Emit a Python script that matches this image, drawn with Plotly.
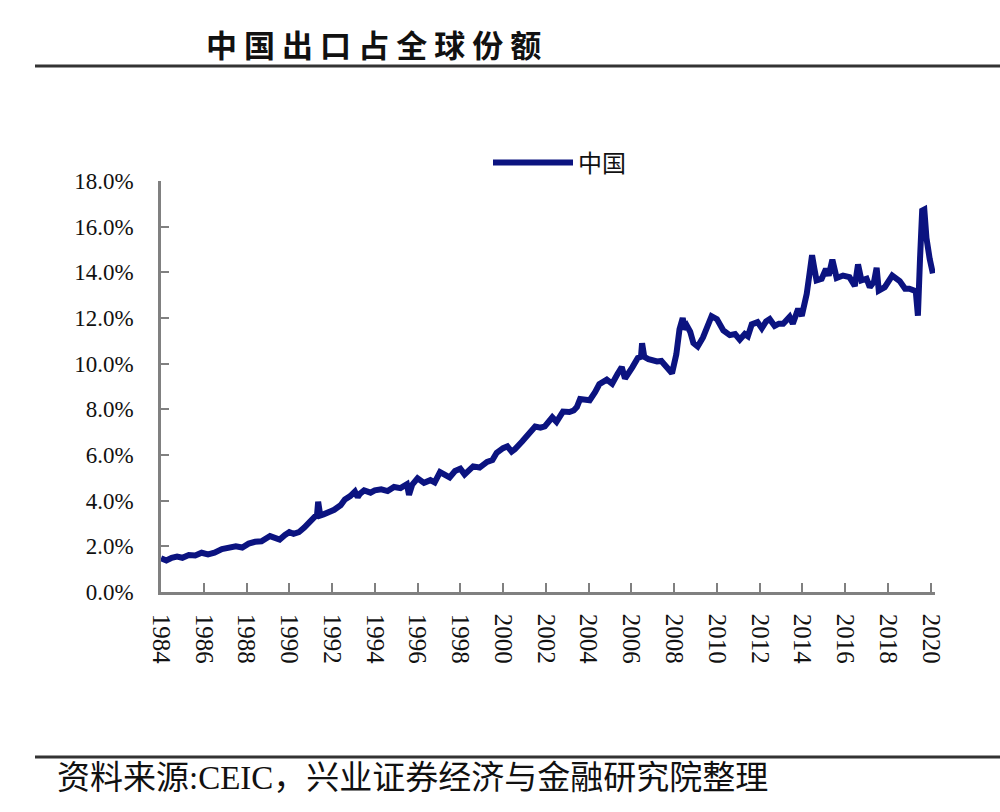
import plotly.graph_objects as go

# ---- data ----
years = [
    1984.0, 1984.25, 1984.5, 1984.75, 1985.0, 1985.3, 1985.6, 1985.9, 1986.2, 1986.5,
    1986.85, 1987.2, 1987.5, 1987.8, 1988.1, 1988.4, 1988.7, 1989.1, 1989.3, 1989.55,
    1989.8, 1990.0, 1990.2, 1990.45, 1990.7, 1991.0, 1991.2, 1991.3, 1991.35, 1991.45,
    1991.6, 1991.85, 1992.1, 1992.4, 1992.6, 1992.85, 1993.07, 1993.2, 1993.3, 1993.5,
    1993.8, 1994.0, 1994.3, 1994.6, 1994.9, 1995.2, 1995.5, 1995.6, 1995.75, 1996.0,
    1996.3, 1996.6, 1996.8, 1997.05, 1997.3, 1997.5, 1997.75, 1998.0, 1998.2, 1998.4,
    1998.6, 1998.9, 1999.25, 1999.5, 1999.7, 2000.0, 2000.2, 2000.4, 2000.55, 2000.9,
    2001.2, 2001.5, 2001.75, 2001.95, 2002.3, 2002.5, 2002.8, 2003.1, 2003.3, 2003.45,
    2003.6, 2003.85, 2004.05, 2004.3, 2004.5, 2004.85, 2005.1, 2005.35, 2005.55, 2005.7,
    2005.9, 2006.05, 2006.3, 2006.45, 2006.5, 2006.6, 2006.8, 2007.0, 2007.2, 2007.4,
    2007.6, 2007.75, 2007.9, 2008.1, 2008.25, 2008.4, 2008.5, 2008.6, 2008.75, 2008.9,
    2009.1, 2009.35, 2009.5, 2009.75, 2010.0, 2010.15, 2010.3, 2010.6, 2010.85, 2011.07,
    2011.3, 2011.45, 2011.63, 2011.9, 2012.1, 2012.3, 2012.47, 2012.7, 2012.9, 2013.1,
    2013.4, 2013.55, 2013.8, 2013.97, 2014.2, 2014.34, 2014.45, 2014.55, 2014.66, 2014.9,
    2015.1, 2015.23, 2015.4, 2015.6, 2015.9, 2016.2, 2016.45, 2016.6, 2016.76, 2017.0,
    2017.15, 2017.35, 2017.47, 2017.57, 2017.85, 2018.2, 2018.55, 2018.8, 2019.0, 2019.3,
    2019.4, 2019.5, 2019.6, 2019.7, 2019.8, 2019.95, 2020.1,
]
china_share = [
    1.48, 1.38, 1.50, 1.55, 1.50, 1.62, 1.60, 1.72, 1.65, 1.72,
    1.88, 1.92, 2.00, 1.95, 2.12, 2.20, 2.22, 2.45, 2.38, 2.30,
    2.50, 2.62, 2.55, 2.62, 2.82, 3.10, 3.25, 3.40, 3.95, 3.35,
    3.40, 3.50, 3.60, 3.80, 4.05, 4.20, 4.40, 4.15, 4.30, 4.45,
    4.35, 4.45, 4.50, 4.42, 4.60, 4.55, 4.72, 4.25, 4.70, 4.98,
    4.78, 4.90, 4.80, 5.25, 5.10, 5.02, 5.30, 5.40, 5.15, 5.35,
    5.50, 5.45, 5.70, 5.78, 6.10, 6.30, 6.38, 6.15, 6.25, 6.60,
    6.95, 7.25, 7.20, 7.25, 7.65, 7.45, 7.90, 7.88, 7.95, 8.10,
    8.45, 8.40, 8.40, 8.75, 9.10, 9.30, 9.12, 9.55, 9.85, 9.35,
    9.60, 9.85, 10.25, 10.30, 10.90, 10.30, 10.20, 10.15, 10.10, 10.12,
    9.90, 9.70, 9.58, 10.40, 11.50, 12.00, 11.50, 11.65, 11.40, 10.90,
    10.75, 11.15, 11.55, 12.08, 11.95, 11.70, 11.45, 11.25, 11.30, 11.05,
    11.30, 11.20, 11.72, 11.82, 11.55, 11.85, 11.95, 11.65, 11.75, 11.75,
    12.05, 11.75, 12.40, 12.10, 13.05, 14.00, 14.75, 14.20, 13.65, 13.72,
    14.15, 13.86, 14.55, 13.75, 13.86, 13.79, 13.40, 14.35, 13.65, 13.72,
    13.35, 13.60, 14.20, 13.20, 13.35, 13.86, 13.62, 13.28, 13.28, 13.18,
    12.10, 14.60, 16.70, 16.75, 15.50, 14.60, 13.95,
]
series_name = "中国"
title_text = "中 国 出 口 占 全 球 份 额"
source_text = "资料来源:CEIC，兴业证券经济与金融研究院整理"
y_ticks = [0, 2, 4, 6, 8, 10, 12, 14, 16, 18]
x_ticks = list(range(1984, 2021, 2))

LINE_COLOR = "#0b1380"
AXIS_COLOR = "#808080"
SERIF = "Liberation Serif, Times New Roman, serif"
CJK = "Noto Sans CJK SC"

fig = go.Figure()
fig.add_trace(go.Scatter(
    x=years, y=china_share, mode="lines", name=series_name,
    line=dict(color=LINE_COLOR, width=6),
))

W, H = 1000, 812
L, R, T, B = 161, 65, 181, 220
pw, ph = W - L - R, H - T - B

def px_x(px):
    return (px - L) / pw

def px_y(py):
    return (H - B - py) / ph

fig.update_layout(
    width=W, height=H,
    margin=dict(l=L, r=R, t=T, b=B, pad=0),
    paper_bgcolor="white", plot_bgcolor="white",
    showlegend=True,
    legend=dict(
        x=px_x(488), y=px_y(163), xanchor="left", yanchor="middle",
        font=dict(family=CJK, size=24, color="#111111"),
        bgcolor="rgba(0,0,0,0)", itemwidth=80,
    ),
    xaxis=dict(
        range=[1984, 2020.2], tickmode="array", tickvals=x_ticks,
        ticktext=[str(v) for v in x_ticks], tickangle=90,
        showline=True, linecolor=AXIS_COLOR, linewidth=2.5,
        ticks="inside", ticklen=9, tickwidth=2, tickcolor=AXIS_COLOR,
        showgrid=False, zeroline=False,
        tickfont=dict(family=SERIF, size=25, color="#111111"),
        ticklabelstandoff=14,
    ),
    yaxis=dict(
        range=[0, 18], tickmode="array", tickvals=y_ticks,
        ticktext=[f"{v:.1f}%" for v in y_ticks],
        showline=True, linecolor=AXIS_COLOR, linewidth=2.5,
        ticks="inside", ticklen=8, tickwidth=2, tickcolor=AXIS_COLOR,
        showgrid=False, zeroline=False,
        tickfont=dict(family=SERIF, size=23, color="#111111"),
        ticklabelstandoff=20,
    ),
    shapes=[
        dict(type="line", xref="paper", yref="paper",
             x0=px_x(35), x1=px_x(1000), y0=px_y(66), y1=px_y(66),
             line=dict(color="#333333", width=3)),
        dict(type="line", xref="paper", yref="paper",
             x0=px_x(35), x1=px_x(1000), y0=px_y(757), y1=px_y(757),
             line=dict(color="#333333", width=3)),
    ],
    annotations=[
        dict(text=title_text, xref="paper", yref="paper",
             x=px_x(204), y=px_y(43), xanchor="left", yanchor="middle",
             showarrow=False,
             font=dict(family=CJK, size=31, color="#111111", weight="bold")),
        dict(text=source_text, xref="paper", yref="paper",
             x=px_x(55), y=px_y(778), xanchor="left", yanchor="middle",
             showarrow=False,
             font=dict(family=SERIF + ", " + CJK, size=33, color="#111111")),
    ],
)

fig.write_html(
    "out.html",
    config={"displayModeBar": False},
    post_script="document.body.style.margin='0';document.body.style.overflow='hidden';",
)
